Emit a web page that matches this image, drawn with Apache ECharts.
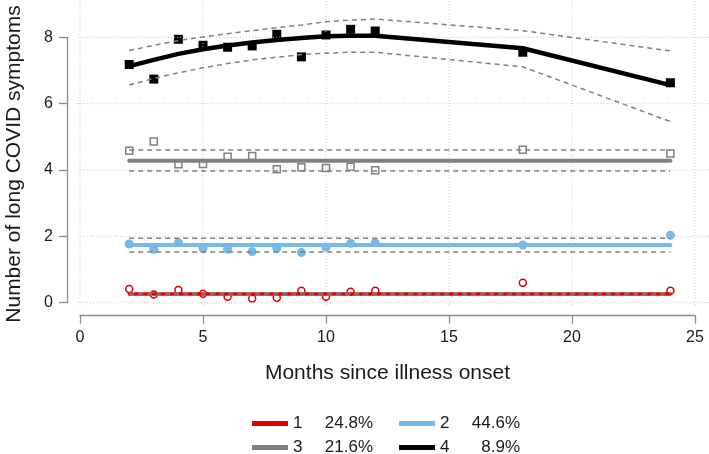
<!DOCTYPE html>
<html>
<head>
<meta charset="utf-8">
<script src="https://cdn.jsdelivr.net/npm/echarts@6/dist/echarts.min.js"></script>
<style>
  html, body { margin: 0; padding: 0; background: #fff; }
  #chart { width: 709px; height: 454px; }
</style>
</head>
<body>
<div id="chart"></div>
<script>
// months of follow-up
var months = [2, 3, 4, 5, 6, 7, 8, 9, 10, 11, 12, 18, 24];

// trajectory classes and their shares
var classNames = ['1', '2', '3', '4'];
var classShares = ['24.8%', '44.6%', '21.6%', '8.9%'];

// observed means
var obs1 = [0.41, 0.25, 0.38, 0.27, 0.18, 0.13, 0.15, 0.36, 0.18, 0.33, 0.36, 0.60, 0.36];
var obs2 = [1.77, 1.61, 1.81, 1.64, 1.61, 1.54, 1.64, 1.51, 1.67, 1.79, 1.81, 1.74, 2.03];
var obs3 = [4.58, 4.86, 4.17, 4.18, 4.40, 4.42, 4.02, 4.08, 4.06, 4.10, 3.99, 4.61, 4.50];
var obs4 = [7.18, 6.74, 7.94, 7.76, 7.70, 7.74, 8.09, 7.41, 8.07, 8.24, 8.19, 7.55, 6.63];

// fitted trajectories
var fit1 = [0.26, 0.26, 0.26, 0.26, 0.26, 0.26, 0.26, 0.26, 0.26, 0.26, 0.26, 0.26, 0.26];
var fit2 = [1.74, 1.74, 1.74, 1.74, 1.74, 1.74, 1.74, 1.74, 1.74, 1.74, 1.74, 1.74, 1.74];
var fit3 = [4.28, 4.28, 4.28, 4.28, 4.28, 4.28, 4.28, 4.28, 4.28, 4.28, 4.28, 4.28, 4.28];
var fit4 = [7.13, 7.32, 7.50, 7.64, 7.75, 7.84, 7.92, 7.98, 8.03, 8.05, 8.05, 7.67, 6.56];

// confidence bands
var lower1 = [0.23, 0.23, 0.23, 0.23, 0.23, 0.23, 0.23, 0.23, 0.23, 0.23, 0.23, 0.23, 0.23];
var upper1 = [0.29, 0.29, 0.29, 0.29, 0.29, 0.29, 0.29, 0.29, 0.29, 0.29, 0.29, 0.29, 0.29];
var lower2 = [1.53, 1.53, 1.53, 1.53, 1.53, 1.53, 1.53, 1.53, 1.53, 1.53, 1.53, 1.53, 1.53];
var upper2 = [1.94, 1.94, 1.94, 1.94, 1.94, 1.94, 1.94, 1.94, 1.94, 1.94, 1.94, 1.94, 1.94];
var lower3 = [3.97, 3.97, 3.97, 3.97, 3.97, 3.97, 3.97, 3.97, 3.97, 3.97, 3.97, 3.97, 3.97];
var upper3 = [4.60, 4.60, 4.60, 4.60, 4.60, 4.60, 4.60, 4.60, 4.60, 4.60, 4.60, 4.60, 4.60];
var lower4 = [6.56, 6.76, 6.93, 7.08, 7.21, 7.32, 7.40, 7.48, 7.52, 7.55, 7.55, 7.11, 5.46];
var upper4 = [7.60, 7.76, 7.90, 8.01, 8.11, 8.20, 8.29, 8.37, 8.47, 8.52, 8.55, 8.20, 7.59];

// axis ticks
var xTicks = [0, 5, 10, 15, 20, 25];
var yTicks = [0, 2, 4, 6, 8];

var FONT = "'Liberation Sans', Arial, sans-serif";
var TEXT = '#1a1a1a';
var AXIS = '#8a8a8a';
var colors = ['#e00000', '#74b9e7', '#808080', '#000000'];

// grid 0: axes (0-25, 0-8); grid 1: whole plot region, same scale, for grid lines and data
var W = 709, H = 454;
var gA = { left: 80, right: 14, top: 37.3, bottom: 151.3 };
var gB = { left: 78, right: 0, top: 0, bottom: 149 };
var pxX = (W - gA.left - gA.right) / 25;
var pxY = (H - gA.top - gA.bottom) / 8;
var xLoB = -(gA.left - gB.left) / pxX;
var xHiB = 25 + (gA.right - gB.right) / pxX;
var yHiB = 8 + (gA.top - gB.top) / pxY;
var yLoB = -(gA.bottom - gB.bottom) / pxY;

function pairs(ys) {
    return months.map(function (m, i) { return [m, ys[i]]; });
}

var series = [];

// dotted grid lines
xTicks.forEach(function (v) {
    series.push({
        type: 'line', xAxisIndex: 1, yAxisIndex: 1, silent: true,
        data: [[v, yLoB], [v, yHiB]], showSymbol: false,
        lineStyle: { color: '#c9c9c9', width: 1, type: [1, 2] }
    });
});
yTicks.forEach(function (v) {
    series.push({
        type: 'line', xAxisIndex: 1, yAxisIndex: 1, silent: true,
        data: [[xLoB, v], [xHiB, v]], showSymbol: false,
        lineStyle: { color: '#c9c9c9', width: 1, type: [1, 2] }
    });
});

var fits = [fit1, fit2, fit3, fit4];
var lowers = [lower1, lower2, lower3, lower4];
var uppers = [upper1, upper2, upper3, upper4];
var obs = [obs1, obs2, obs3, obs4];
var widths = [3.5, 4, 4, 4.5];

// fitted lines
fits.forEach(function (f, i) {
    series.push({
        name: classNames[i], type: 'line', xAxisIndex: 1, yAxisIndex: 1,
        data: pairs(f), showSymbol: false,
        itemStyle: { color: colors[i] },
        lineStyle: { color: colors[i], width: widths[i], cap: 'round', join: 'round' }
    });
});

// confidence bands
[0, 1, 2, 3].forEach(function (i) {
    [lowers[i], uppers[i]].forEach(function (b) {
        series.push({
            type: 'line', xAxisIndex: 1, yAxisIndex: 1,
            data: pairs(b), showSymbol: false, silent: true,
            lineStyle: { color: '#808080', width: 1.5, type: [5, 4] }
        });
    });
});

// observed points
var symStyles = [
    { symbol: 'circle', size: 7, fill: 'none', border: colors[0], bw: 1.5 },
    { symbol: 'circle', size: 9, fill: colors[1], border: colors[1], bw: 0 },
    { symbol: 'rect', size: 7, fill: 'none', border: colors[2], bw: 1.5 },
    { symbol: 'rect', size: 9, fill: '#000', border: '#000', bw: 0 }
];
obs.forEach(function (o, i) {
    var s = symStyles[i];
    series.push({
        type: 'scatter', xAxisIndex: 1, yAxisIndex: 1,
        data: pairs(o), symbol: s.symbol, symbolSize: s.size,
        itemStyle: { color: s.fill, borderColor: s.border, borderWidth: s.bw, opacity: 1 }
    });
});

function legendFor(names, top) {
    return {
        data: names.map(function (n) { return { name: n, icon: 'rect' }; }),
        left: 252, top: top, orient: 'horizontal', padding: 0,
        itemWidth: 36, itemHeight: 5, itemGap: 26,
        selectedMode: false,
        formatter: function (n) {
            return '{n|' + n + '}{p|' + classShares[classNames.indexOf(n)] + '}';
        },
        textStyle: {
            fontFamily: FONT, fontSize: 17, color: TEXT,
            rich: {
                n: { width: 30, align: 'left', fontFamily: FONT, fontSize: 17, color: TEXT },
                p: { width: 50, align: 'right', fontFamily: FONT, fontSize: 17, color: TEXT }
            }
        }
    };
}

var chart = echarts.init(document.getElementById('chart'), null, { renderer: 'canvas' });
chart.setOption({
    animation: false,
    backgroundColor: '#fff',
    grid: [
        { left: gA.left, right: gA.right, top: gA.top, bottom: gA.bottom, containLabel: false, outerBoundsMode: 'none' },
        { left: gB.left, right: gB.right, top: gB.top, bottom: gB.bottom, containLabel: false, outerBoundsMode: 'none' }
    ],
    xAxis: [{
        type: 'value', gridIndex: 0, min: 0, max: 25, interval: 5, offset: 13,
        name: 'Months since illness onset', nameLocation: 'middle', nameGap: 47,
        nameTextStyle: { fontFamily: FONT, fontSize: 21, color: TEXT },
        axisLine: { show: true, onZero: false, lineStyle: { color: AXIS, width: 1.3 } },
        axisTick: { show: true, length: 8, lineStyle: { color: AXIS, width: 1.3 } },
        axisLabel: { fontFamily: FONT, fontSize: 16, color: TEXT, margin: 14 },
        splitLine: { show: false }
    }, {
        type: 'value', gridIndex: 1, min: xLoB, max: xHiB, show: false
    }],
    yAxis: [{
        type: 'value', gridIndex: 0, min: 0, max: 8, interval: 2, offset: 13,
        name: 'Number of long COVID symptoms', nameLocation: 'middle', nameGap: 42,
        nameTextStyle: { fontFamily: FONT, fontSize: 21, color: TEXT, padding: [0, 0, 0, 12] },
        axisLine: { show: true, onZero: false, lineStyle: { color: AXIS, width: 1.3 } },
        axisTick: { show: true, length: 8, lineStyle: { color: AXIS, width: 1.3 } },
        axisLabel: { fontFamily: FONT, fontSize: 16, color: TEXT, margin: 14 },
        splitLine: { show: false }
    }, {
        type: 'value', gridIndex: 1, min: yLoB, max: yHiB, show: false
    }],
    legend: [legendFor(['1', '2'], 415), legendFor(['3', '4'], 439)],
    series: series
});
</script>
</body>
</html>
